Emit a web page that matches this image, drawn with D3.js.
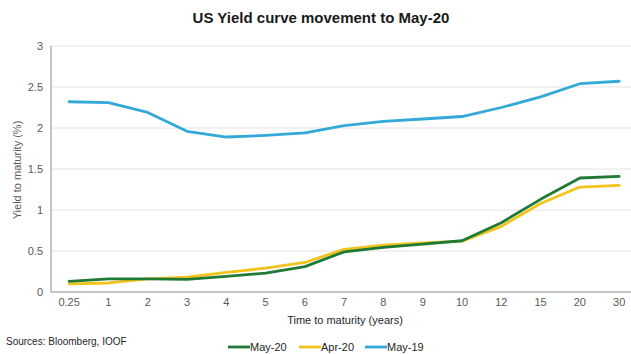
<!DOCTYPE html>
<html>
<head>
<meta charset="utf-8">
<script src="https://cdn.jsdelivr.net/npm/d3@7"></script>
<style>
  html, body { margin: 0; padding: 0; background: #fff; }
  svg { display: block; font-family: "Liberation Sans", Arial, sans-serif; }
</style>
</head>
<body>
<svg id="chart" width="631" height="354"></svg>
<script>
// Maturities (years) on the categorical x axis
const maturities = ["0.25", "1", "2", "3", "4", "5", "6", "7", "8", "9", "10", "12", "15", "20", "30"];
// Yields (%) for each curve
const may20 = [0.13, 0.16, 0.16, 0.155, 0.19, 0.23, 0.31, 0.49, 0.545, 0.585, 0.625, 0.845, 1.13, 1.39, 1.41];
const apr20 = [0.10, 0.11, 0.16, 0.18, 0.24, 0.29, 0.36, 0.52, 0.57, 0.60, 0.62, 0.80, 1.08, 1.28, 1.30];
const may19 = [2.32, 2.31, 2.19, 1.96, 1.89, 1.91, 1.94, 2.03, 2.08, 2.11, 2.14, 2.25, 2.38, 2.54, 2.57];
const yTicks = [0, 0.5, 1, 1.5, 2, 2.5, 3];

const seriesList = [
  { name: "May-20", values: may20, color: "#1f7a35" },
  { name: "Apr-20", values: apr20, color: "#f2c31c" },
  { name: "May-19", values: may19, color: "#33a9d8" }
];

const svg = d3.select("#chart");
const plotLeft = 51, plotTop = 46, plotBottom = 292;

const x = d3.scaleBand().domain(maturities).range([49.5, 638.8]);
const y = d3.scaleLinear().domain([0, 3]).range([plotBottom, plotTop]);
const cx = d => x(d) + x.bandwidth() / 2;

// Horizontal gridlines
svg.append("g")
  .selectAll("line")
  .data(yTicks.filter(t => t > 0))
  .join("line")
  .attr("x1", plotLeft).attr("x2", 631)
  .attr("y1", d => y(d)).attr("y2", d => y(d))
  .attr("stroke", "#e4e4e4").attr("stroke-width", 1);

// Y axis
const yAxis = svg.append("g")
  .attr("transform", `translate(${plotLeft},0)`)
  .call(d3.axisLeft(y).tickValues(yTicks).tickSize(0).tickPadding(8).tickFormat(d3.format("")));
yAxis.select(".domain").attr("stroke", "#8c8c8c").attr("d", `M0,${plotTop}V${plotBottom}`);
yAxis.selectAll("text").attr("fill", "#595959").attr("font-size", "11px");

// X axis
const xAxis = svg.append("g")
  .attr("transform", `translate(0,${plotBottom})`)
  .call(d3.axisBottom(x).tickSize(0).tickPadding(6));
xAxis.select(".domain").attr("stroke", "#8c8c8c").attr("d", `M${plotLeft},0H631`);
xAxis.selectAll("text").attr("fill", "#595959").attr("font-size", "11px");

// Curves
const line = d3.line()
  .x((d, i) => cx(maturities[i]))
  .y(d => y(d));

svg.append("g")
  .selectAll("path")
  .data(seriesList.slice().reverse())
  .join("path")
  .attr("d", s => line(s.values))
  .attr("fill", "none")
  .attr("stroke", s => s.color)
  .attr("stroke-width", 2.8)
  .attr("stroke-linejoin", "round")
  .attr("stroke-linecap", "round");

// Title
svg.append("text")
  .attr("x", 321).attr("y", 23)
  .attr("text-anchor", "middle")
  .attr("font-size", "15px").attr("font-weight", "bold")
  .attr("fill", "#1a1a1a")
  .text("US Yield curve movement to May-20");

// Axis titles
svg.append("text")
  .attr("transform", "translate(21,170) rotate(-90)")
  .attr("text-anchor", "middle")
  .attr("font-size", "11px").attr("fill", "#595959")
  .text("Yield to maturity (%)");

svg.append("text")
  .attr("x", 345).attr("y", 324)
  .attr("text-anchor", "middle")
  .attr("font-size", "11px").attr("fill", "#262626")
  .text("Time to maturity (years)");

// Source note
svg.append("text")
  .attr("x", 6).attr("y", 345)
  .attr("font-size", "10px").attr("fill", "#262626")
  .text("Sources: Bloomberg, IOOF");

// Legend
const legendX = [228, 299, 365];
const legend = svg.append("g")
  .selectAll("g")
  .data(seriesList)
  .join("g")
  .attr("transform", (d, i) => `translate(${legendX[i]},347)`);
legend.append("line")
  .attr("x1", 0).attr("x2", 22)
  .attr("stroke", d => d.color).attr("stroke-width", 2.8);
legend.append("text")
  .attr("x", 22).attr("y", 4)
  .attr("font-size", "11px").attr("fill", "#262626")
  .text(d => d.name);
</script>
</body>
</html>
